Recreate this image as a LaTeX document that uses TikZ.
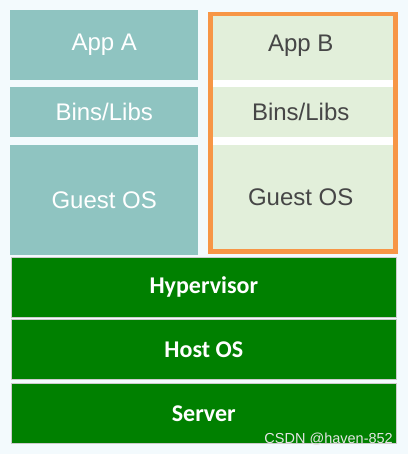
\documentclass[tikz,border=0pt]{standalone}
\usepackage{fontspec}
\setmainfont{Liberation Sans}
\newfontfamily\carlito{Carlito}
\definecolor{bgc}{RGB}{243,250,253}
\definecolor{tealc}{RGB}{143,196,193}
\definecolor{lgreen}{RGB}{226,239,218}
\definecolor{orangec}{RGB}{247,150,70}
\definecolor{darkt}{RGB}{70,70,70}
\definecolor{hgreen}{RGB}{0,128,0}
\tikzset{
  cell/.style={rectangle, inner sep=0pt, anchor=north west, font=\fontsize{24}{28}\selectfont},
  tealbox/.style={cell, fill=tealc, text=white},
  greenbox/.style={cell, fill=lgreen, text=darkt},
  hostbox/.style={cell, fill=hgreen, text=white, draw=gray!40, line width=0.6pt, font=\carlito\bfseries\fontsize{24}{28}\selectfont},
}
\begin{document}
\begin{tikzpicture}[x=1pt,y=-1pt]
\fill[bgc] (0,0) rectangle (408,454);
\useasboundingbox (0,0) rectangle (408,454);
% left column
\node[tealbox, minimum width=188pt, minimum height=70pt] (appa) at (10,10) {App A};
\node[tealbox, minimum width=188pt, minimum height=50pt] (binsa) at (10,87) {Bins/Libs};
\node[tealbox, minimum width=188pt, minimum height=110pt] (guesta) at (10,145) {Guest OS};
% right column
\node[greenbox, minimum width=185pt, minimum height=68pt] (appb) at (208,12) {App B};
\node[fill=white, inner sep=0pt, anchor=north west, minimum width=185pt, minimum height=7pt] (sep1) at (208,80) {};
\node[greenbox, minimum width=185pt, minimum height=50pt] (binsb) at (208,87) {Bins/Libs};
\node[fill=white, inner sep=0pt, anchor=north west, minimum width=185pt, minimum height=8pt] (sep2) at (208,137) {};
\node[greenbox, minimum width=185pt, minimum height=104pt] (guestb) at (208,145) {Guest OS};
\node[draw=orangec, line width=4.5pt, inner sep=0pt, anchor=north west, minimum width=185pt, minimum height=237pt] (frameb) at (208,12) {};
% lower stack
\node[hostbox, minimum width=385pt, minimum height=60pt] (hyp) at (11,257) {Hypervisor};
\node[hostbox, minimum width=385pt, minimum height=60pt] (host) at (11,319) {Host OS};
\node[hostbox, minimum width=385pt, minimum height=60pt] (server) at (11,383) {Server};
% watermark
\node[anchor=east, inner sep=0pt, text=white!80!gray, font=\fontsize{14.5}{16}\selectfont] (wm) at (393,439) {CSDN @haven-852};
\end{tikzpicture}
\end{document}
